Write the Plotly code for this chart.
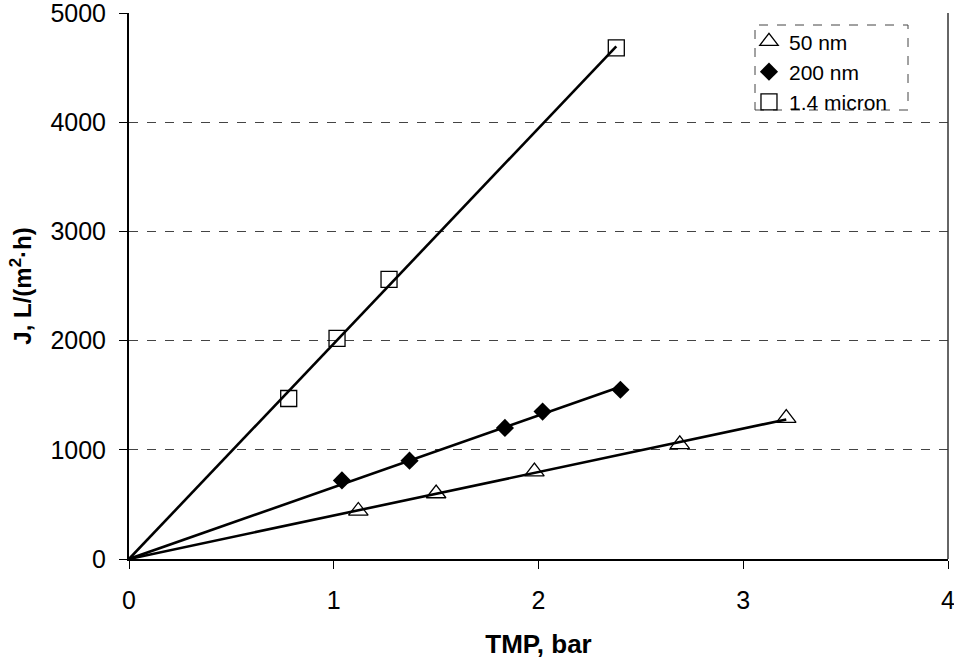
import plotly.graph_objects as go
import numpy as np

# Data
tmp_50nm = [1.12, 1.50, 1.98, 2.69, 3.21]
j_50nm = [440, 600, 800, 1050, 1290]

tmp_200nm = [1.04, 1.37, 1.836, 2.02, 2.40]
j_200nm = [720, 900, 1200, 1350, 1550]

tmp_14um = [0.78, 1.016, 1.27, 2.38]
j_14um = [1470, 2020, 2560, 4680]

series_names = ["50 nm", "200 nm", "1.4 micron"]
x_ticks = [0, 1, 2, 3, 4]
y_ticks = [0, 1000, 2000, 3000, 4000, 5000]

FONT = "Liberation Sans, Arial, sans-serif"

fig = go.Figure()

def trend(xs, ys):
    xs = np.array(xs); ys = np.array(ys)
    k = (xs * ys).sum() / (xs * xs).sum()
    xe = xs.max()
    return [0, xe], [0, k * xe]

for xs, ys in [(tmp_50nm, j_50nm), (tmp_200nm, j_200nm), (tmp_14um, j_14um)]:
    tx, ty = trend(xs, ys)
    fig.add_trace(go.Scatter(x=tx, y=ty, mode="lines", line=dict(color="black", width=2.6),
                             showlegend=False, hoverinfo="skip"))

marker_styles = [
    dict(symbol="triangle-up-open", size=17, color="black", line=dict(width=1.3, color="black")),
    dict(symbol="diamond", size=14, color="black", line=dict(width=0)),
    dict(symbol="square-open", size=16, color="black", line=dict(width=1.3, color="black")),
]
for name, xs, ys, ms in zip(series_names, [tmp_50nm, tmp_200nm, tmp_14um],
                            [j_50nm, j_200nm, j_14um], marker_styles):
    fig.add_trace(go.Scatter(x=xs, y=ys, mode="markers", name=name, marker=ms))

fig.update_layout(
    width=954, height=660,
    margin=dict(l=129, r=6, t=13, b=101),
    paper_bgcolor="white", plot_bgcolor="white",
    font=dict(family=FONT, size=20, color="black"),
    showlegend=True,
    legend=dict(x=0.757, y=0.985, xanchor="left", yanchor="top",
                bgcolor="rgba(0,0,0,0)", borderwidth=0,
                font=dict(family=FONT, size=21, color="black"),
                itemwidth=30, tracegroupgap=0, itemsizing="trace"),
    xaxis=dict(range=[0, 4], tickvals=x_ticks, showgrid=False, zeroline=False,
               showline=True, linecolor="black", linewidth=2,
               ticks="outside", ticklen=8, tickcolor="black", tickwidth=1,
               ticklabelstandoff=10, ticklabeloverflow="allow", automargin=False,
               tickfont=dict(family=FONT, size=25, color="black"),
               title=dict(text="<b>TMP, bar</b>", standoff=22,
                          font=dict(family=FONT, size=26, color="black"))),
    yaxis=dict(range=[0, 5000], tickvals=y_ticks, showgrid=True,
               gridcolor="#444", griddash="dash", gridwidth=1, zeroline=False,
               showline=True, linecolor="black", linewidth=2,
               ticks="outside", ticklen=8, tickcolor="black", tickwidth=1,
               ticklabelstandoff=8, ticklabeloverflow="allow", automargin=False,
               tickfont=dict(family=FONT, size=25, color="black"),
               title=dict(text="<b>J, L/(m<sup>2</sup>·h)</b>", standoff=12,
                          font=dict(family=FONT, size=24, color="black"))),
)

# right border of plot area
fig.add_shape(type="line", xref="paper", yref="paper", x0=1, x1=1, y0=0, y1=1,
              line=dict(color="#333", width=1.5))
# dashed legend box
fig.add_shape(type="rect", xref="paper", yref="paper",
              x0=(755 - 129) / 819, x1=(908 - 129) / 819,
              y0=(559 - 110) / 546, y1=(559 - 25) / 546,
              line=dict(color="#444", width=1, dash="dash"))

fig.write_html("out.html")
